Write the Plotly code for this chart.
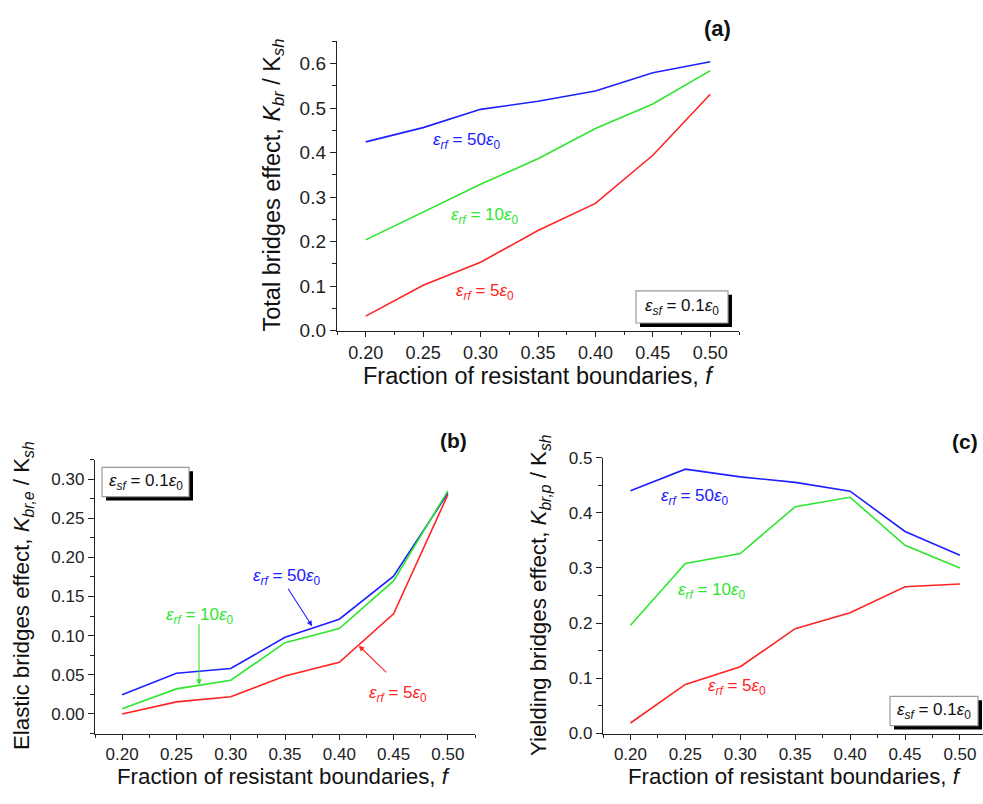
import plotly.graph_objects as go

W, H = 983, 804

# Fraction of resistant boundaries
f = [0.20, 0.25, 0.30, 0.35, 0.40, 0.45, 0.50]

# (a) total bridges effect
total_50 = [0.424, 0.456, 0.497, 0.515, 0.538, 0.579, 0.604]
total_10 = [0.204, 0.266, 0.329, 0.386, 0.454, 0.509, 0.584]
total_5 = [0.033, 0.102, 0.154, 0.225, 0.286, 0.394, 0.531]

# (b) elastic bridges effect
elastic_50 = [0.0245, 0.052, 0.058, 0.098, 0.121, 0.176, 0.282]
elastic_10 = [0.0066, 0.032, 0.043, 0.091, 0.109, 0.170, 0.285]
elastic_5 = [0.000, 0.0154, 0.022, 0.0486, 0.066, 0.128, 0.280]

# (c) yielding bridges effect
yield_50 = [0.440, 0.479, 0.465, 0.455, 0.439, 0.366, 0.323]
yield_10 = [0.196, 0.308, 0.326, 0.411, 0.428, 0.341, 0.300]
yield_5 = [0.019, 0.089, 0.121, 0.190, 0.219, 0.266, 0.271]

BLUE, GREEN, RED = "#2020ff", "#2ee62e", "#ff2424"
FONT = "Arial, Liberation Sans, sans-serif"

def px(x):
    return x / W

def py(y):
    return 1 - y / H

def eps(sub, rhs):
    return f"<i>ε</i><sub><i>{sub}</i></sub> = {rhs}<i>ε</i><sub>0</sub>"

fig = go.Figure()

panels = [
    ("", (total_50, total_10, total_5)),
    ("2", (elastic_50, elastic_10, elastic_5)),
    ("3", (yield_50, yield_10, yield_5)),
]
for suffix, series in panels:
    for vals, col in zip(series, (BLUE, GREEN, RED)):
        fig.add_trace(go.Scatter(x=f, y=vals, mode="lines",
                                 line=dict(color=col, width=1.6),
                                 xaxis="x" + suffix, yaxis="y" + suffix,
                                 showlegend=False, hoverinfo="skip"))

def xax(domain, anchor, rng, fs):
    return dict(domain=domain, anchor=anchor, range=rng, showline=True,
                linecolor="#222", linewidth=1.4, showgrid=False, zeroline=False,
                ticks="outside", ticklen=5, tickwidth=1.2, tickcolor="#222",
                tickvals=f, tickformat=".2f",
                tickfont=dict(family=FONT, size=fs, color="#222"),
                minor=dict(ticks="outside", ticklen=3, tickwidth=1.1,
                           tickcolor="#222", dtick=0.025, tick0=0.175))

def yax(domain, anchor, rng, dtick, fmt, minor_dt, fs):
    return dict(domain=domain, anchor=anchor, range=rng, showline=True,
                linecolor="#222", linewidth=1.4, showgrid=False, zeroline=False,
                ticks="outside", ticklen=6, tickwidth=1.2, tickcolor="#222",
                dtick=dtick, tick0=0, tickformat=fmt,
                tickfont=dict(family=FONT, size=fs, color="#222"),
                minor=dict(ticks="outside", ticklen=3.5, tickwidth=1.1,
                           tickcolor="#222", dtick=minor_dt, tick0=0))

layout = dict(
    width=W, height=H, margin=dict(l=0, r=0, t=0, b=0),
    paper_bgcolor="white", plot_bgcolor="white",
    xaxis=xax([px(337), px(739)], "y", [0.175, 0.525], 18),
    yaxis=yax([py(330), py(33)], "x", [0, 0.65], 0.1, ".1f", 0.05, 19),
    xaxis2=xax([px(95), px(475)], "y2", [0.175, 0.525], 17),
    yaxis2=yax([py(743), py(462)], "x2", [-0.025, 0.325], 0.05, ".2f", 0.025, 17),
    xaxis3=xax([px(603), 1.0], "y3", [0.175, 0.521], 17),
    yaxis3=yax([py(743), py(460)], "x3", [0, 0.5], 0.1, ".1f", 0.05, 17),
)
fig.update_layout(**layout)

ann = []
shapes = []

def label(x, y, text, color, xr, yr, size=17):
    ann.append(dict(x=x, y=y, xref=xr, yref=yr, text=text, showarrow=False,
                    xanchor="center", yanchor="middle",
                    font=dict(family=FONT, size=size, color=color)))

def arrow_label(hx, hy, ax, ay, color, xr, yr):
    ann.append(dict(x=hx, y=hy, xref=xr, yref=yr, text="", showarrow=True,
                    ax=ax, ay=ay, arrowcolor=color, arrowhead=2, arrowsize=1,
                    arrowwidth=1.1, standoff=0))

def paper_text(x, y, text, size, angle=0, color="#111"):
    ann.append(dict(x=px(x), y=py(y), xref="paper", yref="paper", text=text,
                    showarrow=False, xanchor="center", yanchor="middle",
                    textangle=angle,
                    font=dict(family=FONT, size=size, color=color)))

def boxed(x0, y0, x1, y1):
    # drop shadow then framed box, in pixels
    shapes.append(dict(type="rect", xref="paper", yref="paper",
                       x0=px(x0 + 4), x1=px(x1 + 4), y0=py(y1 + 4), y1=py(y0 + 4),
                       fillcolor="black", line=dict(width=0), layer="above"))
    shapes.append(dict(type="rect", xref="paper", yref="paper",
                       x0=px(x0), x1=px(x1), y0=py(y1), y1=py(y0),
                       fillcolor="white", line=dict(color="#9a9a9a", width=1.2),
                       layer="above"))
    paper_text((x0 + x1) / 2, (y0 + y1) / 2, eps("sf", "0.1"), 17)

# (a)
label(0.288, 0.427, eps("rf", "50"), BLUE, "x", "y")
label(0.304, 0.258, eps("rf", "10"), GREEN, "x", "y")
label(0.304, 0.0875, eps("rf", "5"), RED, "x", "y")
boxed(636, 289, 728, 322)

# (b)
label(0.352, 0.1755, eps("rf", "50"), BLUE, "x2", "y2")
arrow_label(0.375, 0.112, -25, -39, BLUE, "x2", "y2")
label(0.2717, 0.1257, eps("rf", "10"), GREEN, "x2", "y2")
arrow_label(0.2708, 0.0373, 0, -62, GREEN, "x2", "y2")
label(0.454, 0.026, eps("rf", "5"), RED, "x2", "y2")
arrow_label(0.418, 0.0871, 29, 28, RED, "x2", "y2")
boxed(102, 470, 189, 500)

# (c)
label(0.259, 0.429, eps("rf", "50"), BLUE, "x3", "y3")
label(0.2745, 0.258, eps("rf", "10"), GREEN, "x3", "y3")
label(0.297, 0.085, eps("rf", "5"), RED, "x3", "y3")
boxed(890, 705, 978, 735)

# panel letters
paper_text(717, 20, "<b>(a)</b>", 22)
paper_text(453, 443, "<b>(b)</b>", 21)
paper_text(965, 444, "<b>(c)</b>", 21)

# axis titles
xt = "Fraction of resistant boundaries, <i>f</i>"
paper_text(538, 376, xt, 23.5)
paper_text(284, 787, xt, 22.3)
paper_text(795, 787, xt, 22.3)

paper_text(273, 181, "Total bridges effect, <i>K</i><sub><i>br</i></sub> / K<sub><i>sh</i></sub>", 23.5, -90)
paper_text(23, 602, "Elastic bridges effect, <i>K</i><sub><i>br,e</i></sub> / K<sub><i>sh</i></sub>", 22.3, -90)
paper_text(540, 602, "Yielding bridges effect, <i>K</i><sub><i>br,p</i></sub> / K<sub><i>sh</i></sub>", 22.3, -90)

fig.update_layout(annotations=ann, shapes=shapes)
fig.write_html("out.html")
